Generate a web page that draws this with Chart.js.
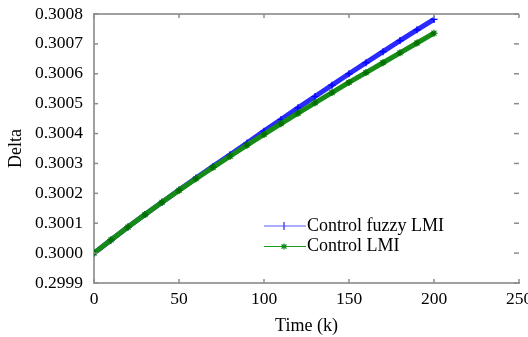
<!DOCTYPE html>
<html>
<head>
<meta charset="utf-8">
<script src="https://cdn.jsdelivr.net/npm/chart.js@4"></script>
<style>
html,body{margin:0;padding:0;background:#fff;}
#wrap{width:528px;height:337px;}
</style>
</head>
<body>
<div id="wrap"><canvas id="c" width="528" height="337"></canvas></div>
<script>
// ---- data ----
const timeSteps = [0,10,20,30,40,50,60,70,80,90,100,110,120,130,140,150,160,170,180,190,200];
const fuzzyLMI = [0.300000,0.300044,0.300087,0.300129,0.300170,0.300211,0.300251,0.300290,0.300329,0.300368,0.300408,0.300447,0.300486,0.300524,0.300562,0.300600,0.300637,0.300674,0.300711,0.300747,0.300782];
const plainLMI = [0.300000,0.300044,0.300087,0.300129,0.300170,0.300210,0.300249,0.300287,0.300324,0.300361,0.300397,0.300433,0.300468,0.300503,0.300537,0.300571,0.300604,0.300637,0.300670,0.300703,0.300736];
const xTicks = [0,50,100,150,200,250];
const yTicks = [0.2999,0.3000,0.3001,0.3002,0.3003,0.3004,0.3005,0.3006,0.3007,0.3008];
const seriesNames = ['Control fuzzy LMI','Control LMI'];

const FONT = '"Liberation Serif", "Times New Roman", serif';
const AXIS = '#a0a0a0';

const pts = (ys) => timeSteps.map((t, i) => ({x: t, y: ys[i]}));

const decor = {
  id: 'decor',
  afterDraw(chart) {
    const ctx = chart.ctx;
    const a = chart.chartArea;
    const xs = chart.scales.x, ys = chart.scales.y;
    ctx.save();
    // top frame line
    ctx.strokeStyle = AXIS;
    ctx.lineWidth = 2;
    ctx.beginPath();
    ctx.moveTo(a.left - 1, a.top);
    ctx.lineTo(a.right, a.top);
    ctx.stroke();
    // inward tick marks
    ctx.lineWidth = 1.5;
    ctx.strokeStyle = '#8c8c8c';
    const tl = 4;
    xs.ticks.forEach(t => {
      const px = xs.getPixelForValue(t.value);
      ctx.beginPath(); ctx.moveTo(px, a.bottom); ctx.lineTo(px, a.bottom - tl); ctx.stroke();
      ctx.beginPath(); ctx.moveTo(px, a.top); ctx.lineTo(px, a.top + tl); ctx.stroke();
    });
    ys.ticks.forEach(t => {
      const py = ys.getPixelForValue(t.value);
      ctx.beginPath(); ctx.moveTo(a.left, py); ctx.lineTo(a.left + tl, py); ctx.stroke();
      ctx.beginPath(); ctx.moveTo(a.right - 5, py); ctx.lineTo(a.right, py); ctx.stroke();
    });
    // legend
    const lx0 = a.left + 170, lx1 = a.left + 212, mx = a.left + 190;
    const rows = [a.top + 212, a.top + 232.5];
    // row 1 : blue line with plus marker
    ctx.strokeStyle = 'rgba(70,70,255,0.45)';
    ctx.lineWidth = 2;
    ctx.beginPath(); ctx.moveTo(lx0, rows[0]); ctx.lineTo(lx1, rows[0]); ctx.stroke();
    ctx.strokeStyle = 'rgba(40,40,255,0.8)';
    ctx.lineWidth = 1.5;
    ctx.beginPath(); ctx.moveTo(mx, rows[0] - 4); ctx.lineTo(mx, rows[0] + 4); ctx.stroke();
    // row 2 : green line with star marker
    ctx.strokeStyle = '#1a9a1a';
    ctx.lineWidth = 1;
    ctx.beginPath(); ctx.moveTo(lx0, rows[1]); ctx.lineTo(lx1, rows[1]); ctx.stroke();
    ctx.strokeStyle = '#008000';
    ctx.lineWidth = 1.2;
    ctx.beginPath(); ctx.moveTo(mx, rows[1] - 3); ctx.lineTo(mx, rows[1] + 3); ctx.stroke();
    ctx.beginPath(); ctx.moveTo(mx - 2.5, rows[1] - 2); ctx.lineTo(mx + 2.5, rows[1] + 2); ctx.stroke();
    ctx.beginPath(); ctx.moveTo(mx - 2.5, rows[1] + 2); ctx.lineTo(mx + 2.5, rows[1] - 2); ctx.stroke();
    ctx.fillStyle = '#000';
    ctx.font = '18px ' + FONT;
    ctx.textAlign = 'left';
    ctx.textBaseline = 'middle';
    ctx.fillText(seriesNames[0], lx1 + 1, rows[0]);
    ctx.fillText(seriesNames[1], lx1 + 1, rows[1]);
    ctx.restore();
  }
};

new Chart(document.getElementById('c'), {
  type: 'line',
  data: {
    datasets: [
      {
        label: seriesNames[0],
        data: pts(fuzzyLMI),
        borderColor: '#2a2aff',
        backgroundColor: '#2a2aff',
        borderWidth: 5,
        pointStyle: 'cross',
        pointRadius: 3.5,
        pointBorderWidth: 1.2,
        pointBorderColor: '#0000ff',
        tension: 0,
        order: 1
      },
      {
        label: seriesNames[1],
        data: pts(plainLMI),
        borderColor: '#168c16',
        backgroundColor: '#168c16',
        borderWidth: 5,
        pointStyle: 'star',
        pointRadius: 3.5,
        pointBorderWidth: 1.2,
        pointBorderColor: '#006f00',
        tension: 0,
        order: 0
      }
    ]
  },
  options: {
    responsive: false,
    animation: false,
    devicePixelRatio: 1,
    layout: {padding: {top: 14, right: 9, left: 0, bottom: 0}},
    plugins: {legend: {display: false}, tooltip: {enabled: false}},
    scales: {
      x: {
        type: 'linear',
        min: 0, max: 250,
        grid: {display: false, drawTicks: false},
        border: {display: true, color: AXIS, width: 2},
        afterBuildTicks: s => { s.ticks = xTicks.map(v => ({value: v})); },
        ticks: {color: '#000', font: {family: FONT, size: 17.5}, padding: 6, maxRotation: 0, autoSkip: false},
        title: {display: true, text: 'Time (k)', color: '#000', font: {family: FONT, size: 18}, padding: {top: 0, bottom: 0}},
        afterFit: s => { s.height = 54; s.paddingLeft = 0; s.paddingRight = 0; }
      },
      y: {
        type: 'linear',
        min: 0.2999, max: 0.3008,
        grid: {display: false, drawTicks: false},
        border: {display: true, color: AXIS, width: 2},
        afterBuildTicks: s => { s.ticks = yTicks.map(v => ({value: v})); },
        ticks: {color: '#000', font: {family: FONT, size: 17.5}, padding: 11, autoSkip: false,
                callback: v => Number(v).toFixed(4)},
        title: {display: true, text: 'Delta', color: '#000', font: {family: FONT, size: 18}, padding: {top: 5, bottom: 0}},
        afterFit: s => { s.width = 94; s.paddingTop = 0; s.paddingBottom = 0; }
      }
    }
  },
  plugins: [decor]
});
</script>
</body>
</html>
